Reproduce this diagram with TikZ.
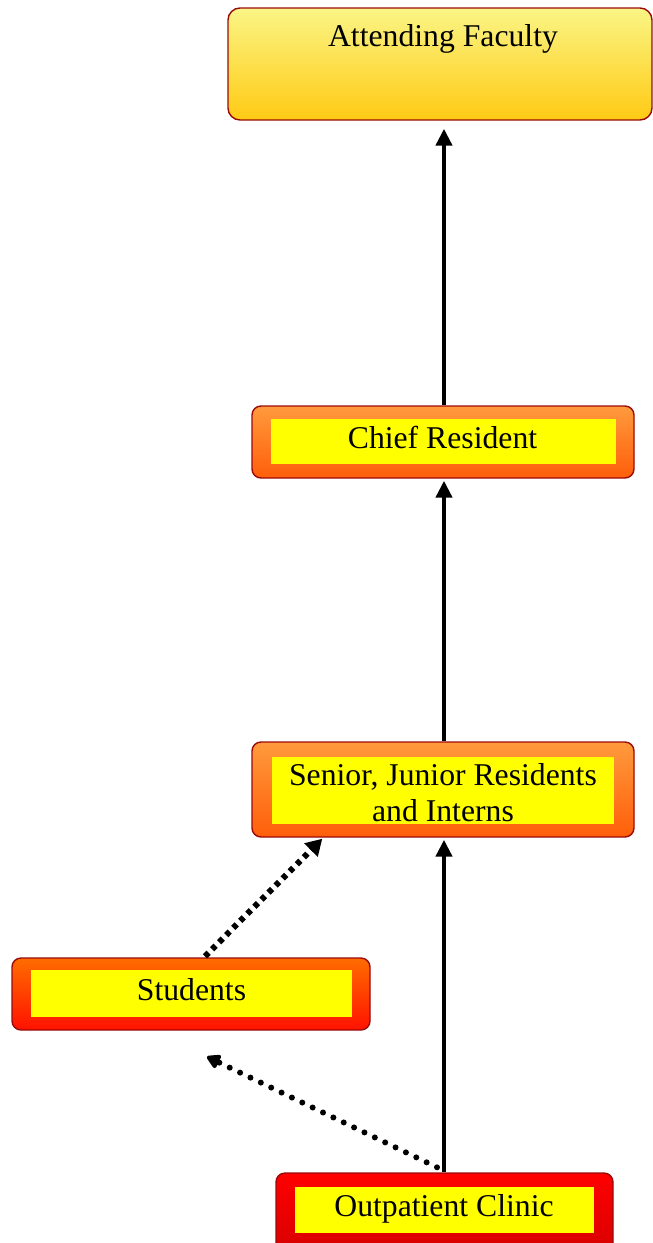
\documentclass[tikz,border=0pt]{standalone}
\usepackage{fontspec}
\setmainfont{Liberation Serif}
\usetikzlibrary{arrows.meta,shadings,calc}
\definecolor{bordred}{HTML}{9A0A0A}
\definecolor{attTop}{HTML}{FAF585}
\definecolor{attBot}{HTML}{FFCA14}
\definecolor{orTop}{HTML}{FF9A3C}
\definecolor{orBot}{HTML}{FF5E0A}
\definecolor{stTop}{HTML}{FF6C00}
\definecolor{stBot}{HTML}{FF1200}
\definecolor{opTop}{HTML}{FF0000}
\definecolor{opBot}{HTML}{D80000}
\definecolor{innerY}{HTML}{FFFF00}
\tikzset{
  box/.style={draw=bordred, line width=1.4pt, rounded corners=9pt, inner sep=0pt, shading=axis, shading angle=0},
  inbox/.style={fill=innerY},
  lbl/.style={anchor=base, inner sep=0pt, font=\fontsize{31.7}{37}\selectfont},
  solidarrow/.style={line width=4.5pt, -{Triangle[width=16pt,length=17pt]}},
  squaredots/.style={line width=6pt, dash pattern=on 5pt off 5pt, -{Triangle[width=18pt,length=16pt]}},
  rounddots/.style={line width=6pt, line cap=round, dash pattern=on 0pt off 11.5pt, -{Triangle[width=16pt,length=15pt,round]}}
}
\begin{document}
\begin{tikzpicture}[x=1pt,y=-1pt]
\useasboundingbox (0,0) rectangle (653,1243);
% boxes
\node[box, rounded corners=12pt, top color=attTop, bottom color=attBot, minimum width=424pt, minimum height=112pt] (att) at (440,64) {};
\node[box, top color=orTop, bottom color=orBot, minimum width=382pt, minimum height=72pt] (chief) at (443,442) {};
\node[box, top color=orTop, bottom color=orBot, minimum width=382pt, minimum height=95pt] (senior) at (443,789.5) {};
\node[box, top color=stTop, bottom color=stBot, minimum width=358pt, minimum height=72pt] (stud) at (191,994) {};
\node[box, top color=opTop, bottom color=opBot, minimum width=337pt, minimum height=80pt] (outp) at (444.5,1213) {};
% inner yellow panels
\fill[inbox] (271,419) rectangle (616,464);
\fill[inbox] (272,757) rectangle (614,824);
\fill[inbox] (31,970) rectangle (352,1017);
\fill[inbox] (295,1187) rectangle (594,1233);
% labels
\node[lbl] (attl) at (443,46) {Attending Faculty};
\node[lbl] (chiefl) at (442.5,448) {Chief Resident};
\node[lbl] (senl1) at (443,785) {Senior, Junior Residents};
\node[lbl] (senl2) at (443,821) {and Interns};
\node[lbl] (studl) at (191.5,1000) {Students};
\node[lbl] (outpl) at (444,1216) {Outpatient Clinic};
% connectors
\coordinate (ca) at ($(chief.north)+(1,0)$);
\draw[solidarrow] (ca) -- ($(ca |- att.south)+(0,8)$);
\coordinate (sa) at ($(senior.north)+(1,0)$);
\draw[solidarrow] (sa) -- ($(sa |- chief.south)+(0,2)$);
\coordinate (oa) at ($(outp.north)+(-0.5,0)$);
\draw[solidarrow] (oa) -- ($(oa |- senior.south)+(0,2)$);
\coordinate (s1) at ($(stud.north)+(14,-1)$);
\coordinate (s2) at ($(senior.south west)+(71,1)$);
\draw[squaredots] (s1) -- (s2);
\coordinate (o1) at ($(outp.north)+(-7.5,-5)$);
\coordinate (o2) at ($(stud.south)+(16,26)$);
\draw[rounddots] (o1) -- (o2);
\end{tikzpicture}
\end{document}
